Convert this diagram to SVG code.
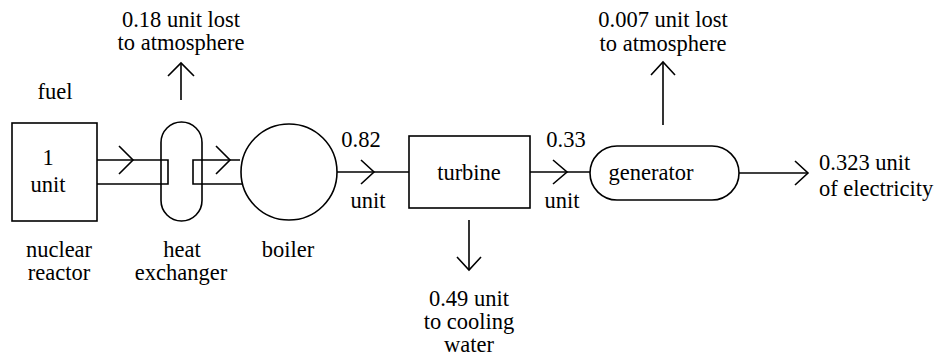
<svg xmlns="http://www.w3.org/2000/svg" width="943" height="356" viewBox="0 0 943 356" font-family="Liberation Serif, DejaVu Serif, serif">
<style>
.s{fill:none;stroke:#000;stroke-width:1.6}
.t{font-family:"Liberation Serif","DejaVu Serif",serif;font-size:22.5px;fill:#000;text-anchor:middle}
.l{text-anchor:start}
</style>
<rect width="943" height="356" fill="#fff"/>
<g id="reactor">
<rect class="s" x="12" y="123" width="85" height="98"/>
<text class="t" x="48" y="165">1</text>
<text class="t" x="48" y="192">unit</text>
<text class="t" x="55" y="99">fuel</text>
<text class="t" x="59" y="257">nuclear</text>
<text class="t" x="59" y="280">reactor</text>
</g>
<g id="heat-exchanger">
<rect class="s" x="161" y="122" width="41" height="99" rx="20.5" ry="20.5"/>
<text class="t" x="182" y="257">heat</text>
<text class="t" x="181" y="280">exchanger</text>
</g>
<g id="boiler">
<circle class="s" cx="289" cy="172" r="48"/>
<text class="t" x="288" y="257">boiler</text>
</g>
<g id="turbine">
<rect class="s" x="409" y="136" width="121" height="72"/>
<text class="t" x="469" y="180">turbine</text>
</g>
<g id="generator">
<rect class="s" x="590" y="146" width="149" height="54" rx="27" ry="27"/>
<text class="t" x="651" y="180">generator</text>
</g>
<g id="labels">
<text class="t" x="181" y="27">0.18 unit lost</text>
<text class="t" x="181" y="50">to atmosphere</text>
<text class="t" x="663" y="27">0.007 unit lost</text>
<text class="t" x="663" y="51">to atmosphere</text>
<text class="t" x="361" y="147">0.82</text>
<text class="t" x="368" y="208">unit</text>
<text class="t" x="566" y="147">0.33</text>
<text class="t" x="562" y="208">unit</text>
<text class="t l" x="819" y="170">0.323 unit</text>
<text class="t l" x="819" y="196">of electricity</text>
<text class="t" x="469" y="306">0.49 unit</text>
<text class="t" x="469" y="329">to cooling</text>
<text class="t" x="469" y="352">water</text>
</g>
<g id="connectors">
<path class="s" d="M97,160 H168 V184 H97"/>
<path class="s" d="M119,146 L133,160 L119,174"/>
<path class="s" d="M240,160 H193 V184 H242"/>
<path class="s" d="M216,146 L230,160 L216,174"/>
<path class="s" d="M337,172 H409"/>
<path class="s" d="M361,160 L374,172 L361,184"/>
<path class="s" d="M530,172 H590"/>
<path class="s" d="M553,160 L567,172 L553,184"/>
<path class="s" d="M739,173 H808"/>
<path class="s" d="M795,161 L808,173 L795,185"/>
<path class="s" d="M181,100 V63"/>
<path class="s" d="M168,76 L181,63 L194,76"/>
<path class="s" d="M663,125 V62"/>
<path class="s" d="M651,75 L663,62 L675,75"/>
<path class="s" d="M469,220 V270"/>
<path class="s" d="M457,257 L469,270 L481,257"/>
</g>
</svg>
